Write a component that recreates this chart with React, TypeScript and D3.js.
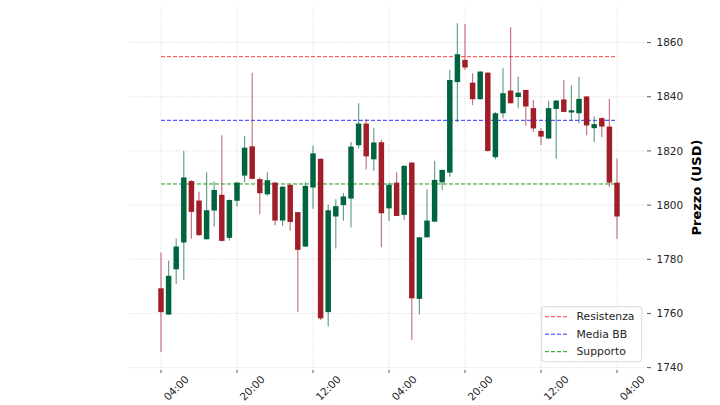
import React from "react";
import * as d3 from "d3";

const opens = [1769.3,1759.6,1776.3,1786.2,1808.9,1801.7,1787.4,1798.0,1803.8,1787.9,1801.6,1810.9,1821.7,1809.6,1804.0,1808.3,1794.3,1807.5,1797.4,1784.7,1806.5,1817.1,1760.5,1795.8,1800.0,1802.4,1822.1,1830.1,1816.9,1823.2,1798.8,1808.3,1796.4,1815.7,1765.4,1788.1,1793.9,1808.4,1812.0,1845.4,1853.6,1845.2,1839.1,1848.9,1817.7,1833.9,1842.3,1839.9,1842.5,1835.8,1827.4,1824.6,1835.5,1839.0,1834.2,1833.9,1840.1,1828.4,1832.1,1829.0,1808.3];
const highs = [1782.5,1779.5,1787.6,1820.0,1809.2,1804.9,1812.1,1808.7,1825.8,1802.0,1808.5,1825.5,1848.9,1810.3,1812.1,1808.5,1807.0,1807.6,1797.5,1808.3,1822.0,1817.2,1800.1,1802.2,1804.5,1823.3,1837.6,1831.8,1828.4,1824.1,1808.3,1812.1,1814.6,1815.8,1788.2,1805.9,1816.4,1813.1,1849.9,1867.1,1866.9,1848.7,1849.4,1849.0,1834.4,1850.5,1865.7,1847.4,1842.6,1838.8,1828.4,1838.5,1838.7,1846.2,1844.2,1847.4,1840.3,1832.7,1832.4,1839.3,1817.1];
const lows = [1745.9,1759.4,1770.9,1772.4,1787.6,1788.7,1787.3,1792.1,1786.6,1786.9,1799.5,1808.3,1809.5,1796.6,1803.5,1792.6,1792.3,1790.5,1760.6,1784.5,1798.7,1757.6,1755.2,1784.0,1794.2,1791.7,1820.9,1813.1,1812.7,1784.4,1794.2,1796.0,1794.5,1750.2,1759.7,1788.0,1793.8,1805.6,1810.5,1830.6,1849.9,1837.0,1839.0,1819.8,1816.9,1832.1,1837.5,1835.8,1829.4,1827.0,1822.2,1824.4,1817.1,1834.3,1831.3,1830.2,1825.8,1823.3,1825.1,1806.8,1787.5];
const closes = [1760.5,1773.9,1784.7,1810.2,1797.5,1788.9,1798.1,1805.6,1786.8,1801.9,1808.3,1821.2,1809.7,1804.4,1809.2,1794.3,1806.8,1793.8,1783.5,1807.1,1819.1,1758.2,1798.1,1799.6,1803.2,1821.6,1830.1,1818.0,1823.1,1797.0,1807.5,1796.0,1814.5,1765.6,1788.1,1794.3,1809.3,1813.0,1846.2,1855.7,1850.8,1839.1,1849.3,1820.0,1833.9,1841.3,1837.6,1841.5,1836.4,1828.3,1825.3,1835.8,1838.6,1834.4,1835.0,1839.2,1829.4,1829.9,1829.0,1808.3,1795.8];

const xTickIdx = [0, 10, 20, 30, 40, 50, 60];
const xTickLabels = ["04:00", "20:00", "12:00", "04:00", "20:00", "12:00", "04:00"];
const yTicks = [1740, 1760, 1780, 1800, 1820, 1840, 1860];

const levelNames = ["Resistenza", "Media BB", "Supporto"];
const levelValues = [1854.8, 1831.3, 1807.8];
const levelColors = ["#ff4040", "#3535ff", "#1a9a1a"];

const W = 720, H = 405;
const plotL = 130, plotR = 645, plotT = 6, plotB = 369;
const FONT = "DejaVu Sans, sans-serif";
const UP = "#00643e", DOWN = "#a11e29";

export default function App() {
  const n = opens.length;
  const x = d3.scaleLinear().domain([0, n - 1]).range([161, 617]);
  const y = d3.scaleLinear().domain([1739.5, 1873.5]).range([plotB, plotT]);
  const step = x(1) - x(0);
  const bw = step * 0.72;

  return (
    <svg width={W} height={H} style={{ position: "absolute", left: 0, top: 0, background: "#fff" }} fontFamily={FONT}>
      {/* grid */}
      {yTicks.map((t) => (
        <line key={"gy" + t} x1={plotL} x2={plotR} y1={y(t)} y2={y(t)} stroke="#d4d4d4" strokeWidth={0.8} strokeDasharray="1,1.3" />
      ))}
      {xTickIdx.map((t) => (
        <line key={"gx" + t} x1={x(t)} x2={x(t)} y1={plotT} y2={plotB} stroke="#d4d4d4" strokeWidth={0.8} strokeDasharray="1,1.3" />
      ))}
      {/* level lines */}
      {levelValues.map((v, i) => (
        <line key={"lv" + i} x1={x(0)} x2={x(n - 1)} y1={y(v)} y2={y(v)} stroke={levelColors[i]} strokeWidth={1} strokeDasharray="4,2" />
      ))}
      {/* candles */}
      {opens.map((o, i) => {
        const c = closes[i];
        const up = c >= o;
        const col = up ? UP : DOWN;
        const top = y(Math.max(o, c));
        const bot = y(Math.min(o, c));
        return (
          <g key={"c" + i}>
            <line x1={x(i)} x2={x(i)} y1={y(highs[i])} y2={y(lows[i])} stroke={col} strokeOpacity={0.6} strokeWidth={1.2} />
            <rect x={x(i) - bw / 2} y={top} width={bw} height={Math.max(bot - top, 0.8)} fill={col} />
          </g>
        );
      })}
      {/* y axis ticks */}
      {yTicks.map((t) => (
        <g key={"yt" + t}>
          <line x1={plotR + 2} x2={plotR + 6} y1={y(t)} y2={y(t)} stroke="#555" strokeWidth={1} />
          <text x={656.5} y={y(t)} dy="0.35em" fontSize={10.5} fill="#262626">{t}</text>
        </g>
      ))}
      <text transform={`translate(701,${(plotT + plotB) / 2}) rotate(-90)`} textAnchor="middle" fontSize={13} fontWeight="bold" fill="#000">Prezzo (USD)</text>
      {/* x axis ticks */}
      {xTickIdx.map((t, i) => (
        <g key={"xt" + i}>
          <line x1={x(t)} x2={x(t)} y1={plotB + 1} y2={plotB + 4} stroke="#555" strokeWidth={1} />
          <text transform={`translate(${x(t) + 4.3},${398.5}) rotate(-45)`} dominantBaseline="central" fontSize={10.5} fill="#262626">{xTickLabels[i]}</text>
        </g>
      ))}
      {/* legend */}
      <rect x={541.7} y={306.7} width={100} height={55} rx={2.5} fill="#fff" fillOpacity={0.8} stroke="#d0d0d0" strokeWidth={0.8} />
      {levelNames.map((nm, i) => (
        <g key={"lg" + i}>
          <line x1={545} x2={568} y1={316.7 + i * 17.5} y2={316.7 + i * 17.5} stroke={levelColors[i]} strokeWidth={1} strokeDasharray="4,2" />
          <text x={576.5} y={316.7 + i * 17.5} dy="0.35em" fontSize={10.8} fill="#262626">{nm}</text>
        </g>
      ))}
    </svg>
  );
}
